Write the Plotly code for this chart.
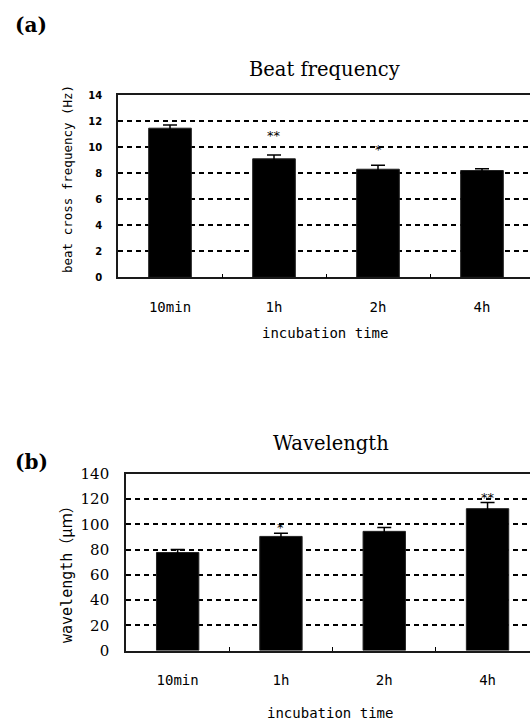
import plotly.graph_objects as go

W, H = 530, 726

categories = ["10min", "1h", "2h", "4h"]

beat_mean = [11.45, 9.1, 8.3, 8.2]
beat_err = [0.25, 0.3, 0.3, 0.13]
beat_sig = ["", "**", "*", ""]
beat_ticks = [0, 2, 4, 6, 8, 10, 12, 14]

wave_mean = [77.7, 90.5, 94.5, 112.5]
wave_err = [2.5, 2.5, 3.0, 4.8]
wave_sig = ["", "*", "", "**"]
wave_ticks = [0, 20, 40, 60, 80, 100, 120, 140]


def px_x(p):
    return p / W


def px_y(p):
    return 1 - p / H


fig = go.Figure()

fig.add_trace(go.Bar(
    x=categories, y=beat_mean, width=0.41,
    marker=dict(color="black", line=dict(color="#222", width=1)),
    error_y=dict(type="data", array=beat_err, visible=True, color="black",
                 thickness=1.5, width=7),
    xaxis="x", yaxis="y", showlegend=False,
))
fig.add_trace(go.Bar(
    x=categories, y=wave_mean, width=0.41,
    marker=dict(color="black", line=dict(color="#222", width=1)),
    error_y=dict(type="data", array=wave_err, visible=True, color="black",
                 thickness=1.5, width=7),
    xaxis="x2", yaxis="y2", showlegend=False,
))

axis_line = dict(showline=True, linecolor="#1a1a1a", linewidth=1.6, automargin=False)
mono = "DejaVu Sans Mono"
xfont = dict(family=mono, size=14, color="black")

common_x = dict(
    type="category", tickson="boundaries", ticks="inside", ticklen=4,
    tickwidth=1.3, tickcolor="black", showgrid=False, mirror=True,
    tickfont=xfont, ticklabelstandoff=16, zeroline=False, **axis_line,
)

fig.update_layout(
    width=W, height=H,
    margin=dict(l=0, r=0, t=0, b=0, pad=0, autoexpand=False),
    paper_bgcolor="white", plot_bgcolor="white",
    bargap=0.59,
    xaxis=dict(domain=[px_x(118), 1.0], range=[-0.5, -0.5 + (W - 118) / 104],
               anchor="y", **common_x),
    yaxis=dict(domain=[px_y(277.3), px_y(95)], range=[0, 14], anchor="x",
               tickvals=beat_ticks, ticks="outside", ticklen=12,
               tickcolor="rgba(0,0,0,0)",
               tickfont=dict(family="DejaVu Sans", size=10, color="black",
                             weight="bold"),
               showgrid=True, gridcolor="black", gridwidth=1.5,
               griddash="5px,4px", zeroline=False, mirror=False,
               **axis_line),
    xaxis2=dict(domain=[px_x(126), 1.0], range=[-0.5, -0.5 + (W - 126) / 103.3],
                anchor="y2", **common_x),
    yaxis2=dict(domain=[px_y(650.5), px_y(474)], range=[0, 140], anchor="x2",
                tickvals=wave_ticks, ticks="outside", ticklen=12,
                tickcolor="rgba(0,0,0,0)",
                tickfont=dict(family="DejaVu Serif", size=15, color="black"),
                showgrid=True, gridcolor="black", gridwidth=1.5,
                griddash="5px,4px", zeroline=False, mirror=False,
                **axis_line),
)

ann = []
# panel labels
ann.append(dict(text="<b>(a)</b>", x=px_x(13), y=px_y(25), xref="paper", yref="paper",
                xanchor="left", yanchor="middle", showarrow=False,
                font=dict(family="DejaVu Serif", size=20, color="black")))
ann.append(dict(text="<b>(b)</b>", x=px_x(13), y=px_y(462), xref="paper", yref="paper",
                xanchor="left", yanchor="middle", showarrow=False,
                font=dict(family="DejaVu Serif", size=20, color="black")))
# titles
title_font = dict(family="DejaVu Serif", size=19.5, color="black")
ann.append(dict(text="Beat frequency", x=px_x(324), y=px_y(70), xref="paper", yref="paper",
                xanchor="center", yanchor="middle", showarrow=False, font=title_font))
ann.append(dict(text="Wavelength", x=px_x(331), y=px_y(443), xref="paper", yref="paper",
                xanchor="center", yanchor="middle", showarrow=False, font=title_font))
# y-axis titles
ann.append(dict(text="beat cross frequency (Hz)", x=px_x(67), y=px_y(179),
                xref="paper", yref="paper", textangle=-90, showarrow=False,
                xanchor="center", yanchor="middle",
                font=dict(family=mono, size=12.5, color="black")))
ann.append(dict(text="wavelength<span style='font-family:Noto Sans CJK JP'>（μｍ）</span>",
                x=px_x(65), y=px_y(571),
                xref="paper", yref="paper", textangle=-90, showarrow=False,
                xanchor="center", yanchor="middle",
                font=dict(family=mono, size=15, color="black")))
# x-axis titles
ann.append(dict(text="incubation time", x=px_x(325), y=px_y(333), xref="paper", yref="paper",
                xanchor="center", yanchor="middle", showarrow=False, font=xfont))
ann.append(dict(text="incubation time", x=px_x(330), y=px_y(713), xref="paper", yref="paper",
                xanchor="center", yanchor="middle", showarrow=False, font=xfont))

# significance markers
star_font = dict(family="DejaVu Sans", size=13, color="black")
for c, m, e, s in zip(categories, beat_mean, beat_err, beat_sig):
    if s:
        ann.append(dict(text=s, x=c, y=m + e, xref="x", yref="y", showarrow=False,
                        yanchor="bottom", yshift=6 if s == "*" else 10, font=star_font))
for c, m, e, s in zip(categories, wave_mean, wave_err, wave_sig):
    if s:
        ann.append(dict(text=s, x=c, y=m + e, xref="x2", yref="y2", showarrow=False,
                        yanchor="bottom", yshift=-4, font=star_font))

fig.update_layout(annotations=ann)

fig.write_html("out.html")
